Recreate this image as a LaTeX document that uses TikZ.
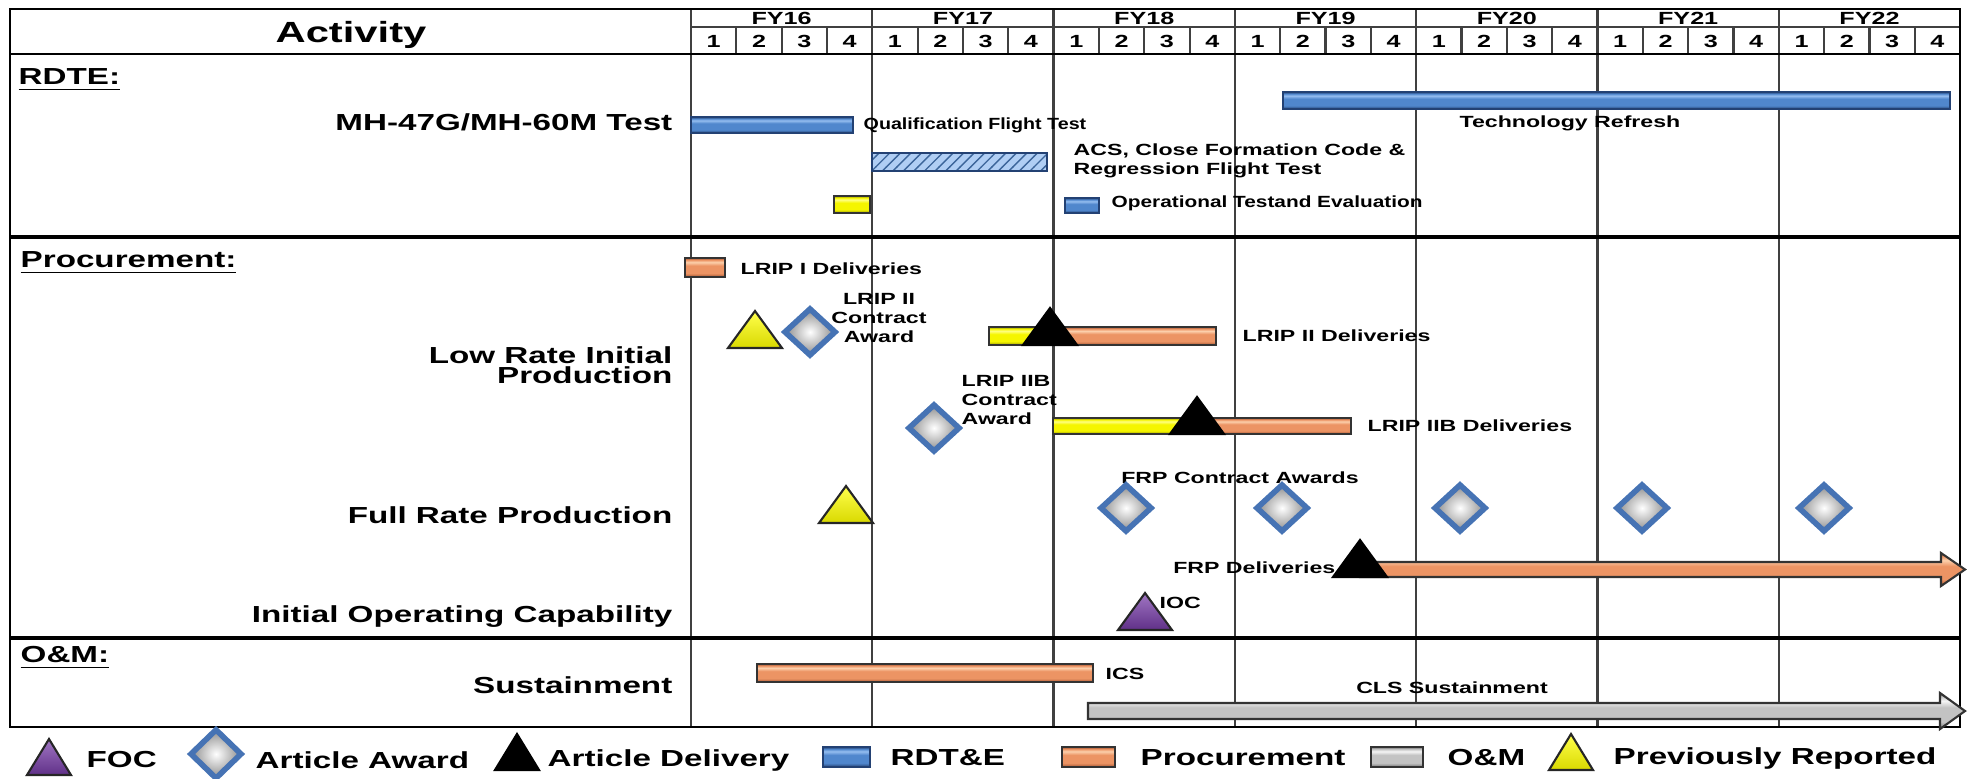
\documentclass[tikz,border=0pt]{standalone}
\usepackage{fontspec}
\setmainfont[FakeStretch=1.43]{Liberation Sans}
\usepackage{tikz}
\usetikzlibrary{patterns}

\definecolor{rdtblue}{RGB}{80,135,205}
\definecolor{rdtlight}{RGB}{150,190,240}
\definecolor{rdtdark}{RGB}{35,65,115}
\definecolor{procor}{RGB}{236,148,100}
\definecolor{proclight}{RGB}{252,208,172}
\definecolor{procdark}{RGB}{165,85,50}
\definecolor{omgray}{RGB}{195,195,195}
\definecolor{omlight}{RGB}{245,245,245}
\definecolor{omdark}{RGB}{115,115,115}
\definecolor{prevyel}{RGB}{245,245,0}
\definecolor{prevlight}{RGB}{255,255,130}
\definecolor{prevdark}{RGB}{150,150,0}
\definecolor{diablue}{RGB}{70,115,180}
\definecolor{focpurple}{RGB}{120,60,170}

\pgfdeclareverticalshading{rdtshade}{100bp}{color(0bp)=(rdtdark); color(25bp)=(rdtdark); color(35bp)=(rdtblue); color(55bp)=(rdtblue); color(64bp)=(rdtlight); color(70bp)=(rdtblue); color(75bp)=(rdtdark); color(100bp)=(rdtdark)}
\pgfdeclareverticalshading{procshade}{100bp}{color(0bp)=(procdark); color(25bp)=(procdark); color(35bp)=(procor); color(55bp)=(procor); color(64bp)=(proclight); color(70bp)=(procor); color(75bp)=(procdark); color(100bp)=(procdark)}
\pgfdeclareverticalshading{omshade}{100bp}{color(0bp)=(omdark); color(25bp)=(omdark); color(35bp)=(omgray); color(55bp)=(omgray); color(64bp)=(omlight); color(70bp)=(omgray); color(75bp)=(omdark); color(100bp)=(omdark)}
\pgfdeclareverticalshading{prevshade}{100bp}{color(0bp)=(prevdark); color(25bp)=(prevdark); color(35bp)=(prevyel); color(55bp)=(prevyel); color(64bp)=(prevlight); color(70bp)=(prevyel); color(75bp)=(prevdark); color(100bp)=(prevdark)}

\tikzset{
  trimark/.pic={\path[pic actions] (-27,0) -- (0,-37) -- (27,0) -- cycle;},
  legtri/.pic={\path[pic actions] (-22,0) -- (0,-36) -- (22,0) -- cycle;},
  diamark/.pic={\path[pic actions] (-25,0) -- (0,-23) -- (25,0) -- (0,23) -- cycle;},
}

\begin{document}
\begin{tikzpicture}[x=0.01cm,y=-0.01cm,line join=miter,
  every node/.style={inner sep=0pt},
  hdlab/.style={font=\bfseries\fontsize{5}{6}\selectfont},
  lab/.style={font=\bfseries\fontsize{4.6}{5.3}\selectfont},
  rowlab/.style={font=\bfseries\fontsize{6.6}{5.8}\selectfont,anchor=east,align=right},
  seclab/.style={font=\bfseries\fontsize{6.6}{7.4}\selectfont,anchor=west},
  leglab/.style={font=\bfseries\fontsize{6.6}{7.4}\selectfont,anchor=west},
  gridline/.style={draw=black!75,line width=0.65pt},
  secline/.style={draw=black,line width=1.2pt},
  rdtbar/.style={draw=rdtdark,line width=0.6pt,shade,shading=rdtshade},
  procbar/.style={draw=black!80,line width=0.6pt,shade,shading=procshade},
  prevbar/.style={draw=black!80,line width=0.6pt,shade,shading=prevshade},
  ombar/.style={draw=black!80,line width=0.6pt,shade,shading=omshade},
  prevtri/.style={draw=black!85,line width=0.6pt,top color=yellow!70!white,bottom color=yellow!85!black},
  deltri/.style={draw=black,line width=0.6pt,fill=black},
  foctri/.style={draw=black!85,line width=0.6pt,top color=focpurple!70!white,bottom color=focpurple!80!black},
  award/.style={draw=diablue,line width=1.6pt,inner color=white,outer color=black!45},
]
\useasboundingbox (0,0) rectangle (1973,779);

\foreach \i in {1,...,27} \draw[gridline] ({691+45.33*\i},27) -- ({691+45.33*\i},54);
\foreach \i in {0,...,7} \draw[gridline] ({691+181.3*\i},9) -- ({691+181.3*\i},727);
\draw[gridline] (691,27) -- (1960,27);
\draw[line width=0.8pt] (10,54) -- (1960,54);
\draw[secline] (10,237) -- (1960,237);
\draw[secline] (10,638) -- (1960,638);
\draw[line width=0.8pt] (10,9) rectangle (1960,727);

\node[font=\bfseries\fontsize{8.3}{9}\selectfont] (activity) at (351,35) {Activity};
\foreach \k/\fy in {0/16,1/17,2/18,3/19,4/20,5/21,6/22} {
  \node[hdlab] (fy\fy) at ({691+181.3*(\k+0.5)},18) {FY\fy};
  \foreach \q in {1,...,4}
    \node[hdlab] (q\fy\q) at ({691+181.3*\k+45.33*(\q-0.5)},41) {\q};
}

\node[seclab] (rdte) at (18,80) {\underline{RDTE:}};
\node[seclab] (proc) at (20,263) {\underline{Procurement:}};
\node[seclab] (om) at (20,658) {\underline{O\&M:}};

\node[rowlab] (mhtest) at (673,122) {MH-47G/MH-60M Test};
\node[rowlab] (lrip) at (673,365) {Low Rate Initial\\Production};
\node[rowlab] (frp) at (673,515) {Full Rate Production};
\node[rowlab] (ioc) at (673,617) {Initial Operating Capability};
\node[rowlab] (sust) at (673,685) {Sustainment};

\draw[rdtbar] (691,117) rectangle (853,133);
\node[lab,anchor=west] (qualft) at (863,125) {\scalebox{0.85}[1]{Qualification Flight Test}};
\draw[rdtbar] (1283,92) rectangle (1950,109);
\node[lab] (techref) at (1570,123) {Technology Refresh};
\draw[draw=rdtdark,line width=0.6pt,preaction={fill=rdtlight!75},pattern=north east lines,pattern color=rdtblue!75!black] (872,153) rectangle (1047,171);
\node[lab,anchor=west,align=left] (acs) at (1073,161) {ACS, Close Formation Code \&\\Regression Flight Test};
\draw[prevbar] (834,196) rectangle (870,213);
\draw[rdtbar] (1065,198) rectangle (1099,213);
\node[lab,anchor=west] (opte) at (1111,203) {\scalebox{0.9}[1]{Operational Testand Evaluation}};

\draw[procbar] (685,258) rectangle (725,277);
\node[lab,anchor=west] (lrip1) at (740,269) {LRIP I Deliveries};
\pic[prevtri] at (755,348) {trimark};
\pic[award] at (810,332) {diamark};
\node[lab,align=center] (lrip2ca) at (879,318) {LRIP II\\Contract\\Award};
\draw[prevbar] (989,327) rectangle (1050,345);
\draw[procbar] (1050,327) rectangle (1216,345);
\pic[deltri] at (1050,345) {trimark};
\node[lab,anchor=west] (lrip2d) at (1242,336) {LRIP II Deliveries};

\pic[award] at (934,428) {diamark};
\node[lab,anchor=west,align=left] (lrip2bca) at (961,400) {LRIP IIB\\Contract\\Award};
\draw[prevbar] (1053,418) rectangle (1197,434);
\draw[procbar] (1197,418) rectangle (1351,434);
\pic[deltri] at (1197,434) {trimark};
\node[lab,anchor=west] (lrip2bd) at (1367,426) {LRIP IIB Deliveries};

\pic[prevtri] at (846,523) {trimark};
\node[lab] (frpca) at (1240,478) {FRP Contract Awards};
\pic[award] at (1126,508) {diamark};
\pic[award] at (1282,508) {diamark};
\pic[award] at (1460,508) {diamark};
\pic[award] at (1642,508) {diamark};
\pic[award] at (1824,508) {diamark};
\draw[procbar] (1360,562) -- (1941,562) -- (1941,553) -- (1965,569.5) -- (1941,586) -- (1941,577) -- (1360,577) -- cycle;
\pic[deltri] at (1360,577) {trimark};
\node[lab,anchor=east] (frpd) at (1336,568) {FRP Deliveries};
\pic[foctri] at (1145,630) {trimark};
\node[lab,anchor=west] (iocm) at (1159,603) {IOC};

\draw[procbar] (757,664) rectangle (1093,682);
\node[lab,anchor=west] (ics) at (1105,674) {ICS};
\draw[ombar] (1088,703) -- (1940,703) -- (1940,693) -- (1965,711) -- (1940,729) -- (1940,719) -- (1088,719) -- cycle;
\node[lab] (cls) at (1452,688) {CLS Sustainment};

\pic[foctri] at (49,775) {legtri};
\node[leglab] (legfoc) at (86,760) {FOC};
\pic[award,yscale=1.05] at (216,754) {diamark};
\node[leglab] (legaward) at (255,760) {Article Award};
\pic[deltri] at (517,770) {legtri};
\node[leglab] (legdel) at (547,760) {Article Delivery};
\draw[rdtbar] (823,747) rectangle (870,767);
\node[leglab] (legrdt) at (890,758) {RDT\&E};
\draw[procbar] (1062,747) rectangle (1115,767);
\node[leglab] (legproc) at (1140,758) {Procurement};
\draw[ombar] (1371,747) rectangle (1423,767);
\node[leglab] (legom) at (1447,758) {O\&M};
\pic[prevtri] at (1571,770) {legtri};
\node[leglab] (legprev) at (1613,758) {Previously Reported};
\end{tikzpicture}
\end{document}
